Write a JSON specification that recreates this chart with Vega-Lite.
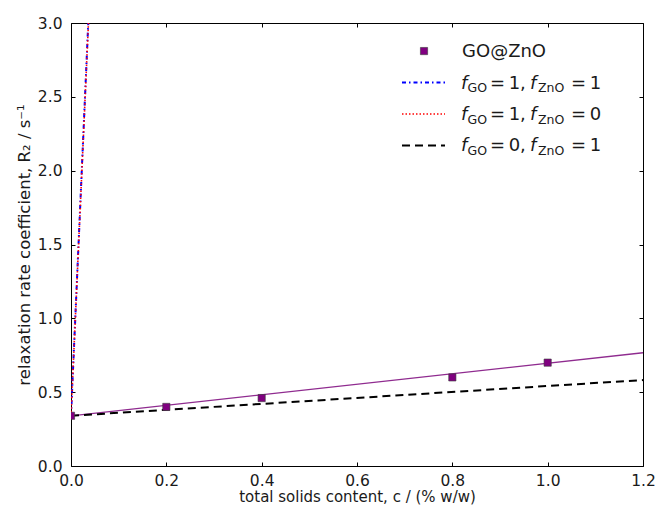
{
  "$schema": "https://vega.github.io/schema/vega-lite/v6.json",
  "width": 572,
  "height": 443,
  "autosize": {"type": "none"},
  "padding": {"left": 71, "top": 23, "right": 12, "bottom": 42},
  "background": "white",
  "datasets": {
    "measured": [
      {"c": 0.0, "R2": 0.34},
      {"c": 0.2, "R2": 0.40},
      {"c": 0.4, "R2": 0.46},
      {"c": 0.8, "R2": 0.60},
      {"c": 1.0, "R2": 0.70}
    ],
    "lines": [
      {"series": "fit", "c": 0.0, "R2": 0.34},
      {"series": "fit", "c": 1.2, "R2": 0.767},
      {"series": "GO1_ZnO1", "c": 0.0, "R2": 0.34},
      {"series": "GO1_ZnO1", "c": 0.0362, "R2": 3.0},
      {"series": "GO1_ZnO0", "c": 0.0, "R2": 0.34},
      {"series": "GO1_ZnO0", "c": 0.0366, "R2": 3.0},
      {"series": "GO0_ZnO1", "c": 0.0, "R2": 0.34},
      {"series": "GO0_ZnO1", "c": 1.2, "R2": 0.582}
    ],
    "one": [{"k": 1}]
  },
  "layer": [
    {
      "data": {"name": "lines"},
      "transform": [{"filter": "datum.series === 'fit'"}],
      "mark": {"type": "line", "color": "#8f2b8f", "strokeWidth": 1.3, "clip": true},
      "encoding": {
        "x": {"field": "c", "type": "quantitative", "scale": {"domain": [0, 1.2], "nice": false},
          "axis": {"title": "total solids content, c / (% w/w)", "values": [0, 0.2, 0.4, 0.6, 0.8, 1.0, 1.2], "format": ".1f", "labelPadding": 11, "titlePadding": 1, "titleFontSize": 15}},
        "y": {"field": "R2", "type": "quantitative", "scale": {"domain": [0, 3], "nice": false},
          "axis": {"title": "relaxation rate coefficient, R₂ / s⁻¹", "values": [0, 0.5, 1.0, 1.5, 2.0, 2.5, 3.0], "format": ".1f", "labelPadding": 13, "titlePadding": 5, "titleFontSize": 16.5}}
      }
    },
    {
      "data": {"name": "measured"},
      "mark": {"type": "point", "opacity": 0},
      "encoding": {
        "x": {"field": "c", "type": "quantitative", "axis": {"orient": "top", "labels": false, "title": null, "values": [0, 0.2, 0.4, 0.6, 0.8, 1.0, 1.2]}},
        "y": {"field": "R2", "type": "quantitative", "axis": {"orient": "right", "labels": false, "title": null, "values": [0, 0.5, 1.0, 1.5, 2.0, 2.5, 3.0]}}
      }
    },
    {
      "data": {"name": "lines"},
      "transform": [{"filter": "datum.series === 'GO0_ZnO1'"}],
      "mark": {"type": "line", "color": "#000000", "strokeWidth": 2, "strokeDash": [8, 5], "clip": true},
      "encoding": {
        "x": {"field": "c", "type": "quantitative", "axis": null},
        "y": {"field": "R2", "type": "quantitative", "axis": null}
      }
    },
    {
      "data": {"name": "lines"},
      "transform": [{"filter": "datum.series === 'GO1_ZnO1'"}],
      "mark": {"type": "line", "color": "#0000ff", "strokeWidth": 2, "strokeDash": [4, 3, 1.5, 3], "clip": true},
      "encoding": {
        "x": {"field": "c", "type": "quantitative", "axis": null},
        "y": {"field": "R2", "type": "quantitative", "axis": null}
      }
    },
    {
      "data": {"name": "lines"},
      "transform": [{"filter": "datum.series === 'GO1_ZnO0'"}],
      "mark": {"type": "line", "color": "#ff0000", "strokeWidth": 1.6, "strokeDash": [1.5, 2], "clip": true},
      "encoding": {
        "x": {"field": "c", "type": "quantitative", "axis": null},
        "y": {"field": "R2", "type": "quantitative", "axis": null}
      }
    },
    {
      "data": {"name": "measured"},
      "mark": {"type": "square", "size": 52, "filled": true, "color": "#800080", "stroke": "#3a3a3a", "strokeWidth": 0.6, "opacity": 1, "clip": true},
      "encoding": {
        "x": {"field": "c", "type": "quantitative", "axis": null},
        "y": {"field": "R2", "type": "quantitative", "axis": null}
      }
    },
    {
      "data": {"name": "one"},
      "mark": {"type": "square", "size": 52, "filled": true, "color": "#800080", "stroke": "#3a3a3a", "strokeWidth": 0.6, "opacity": 1},
      "encoding": {
        "x": {"datum": 0.7406, "type": "quantitative", "axis": null},
        "y": {"datum": 2.81, "type": "quantitative", "axis": null}
      }
    },
    {
      "data": {"name": "one"},
      "mark": {"type": "rule", "color": "#0000ff", "strokeWidth": 2, "strokeDash": [4, 3, 1.5, 3]},
      "encoding": {
        "x": {"datum": 0.6944, "type": "quantitative", "axis": null},
        "x2": {"datum": 0.7846},
        "y": {"datum": 2.597, "type": "quantitative", "axis": null}
      }
    },
    {
      "data": {"name": "one"},
      "mark": {"type": "rule", "color": "#ff0000", "strokeWidth": 1.6, "strokeDash": [1.5, 2]},
      "encoding": {
        "x": {"datum": 0.6944, "type": "quantitative", "axis": null},
        "x2": {"datum": 0.7846},
        "y": {"datum": 2.384, "type": "quantitative", "axis": null}
      }
    },
    {
      "data": {"name": "one"},
      "mark": {"type": "rule", "color": "#000000", "strokeWidth": 2, "strokeDash": [8, 5]},
      "encoding": {
        "x": {"datum": 0.6944, "type": "quantitative", "axis": null},
        "x2": {"datum": 0.7846},
        "y": {"datum": 2.171, "type": "quantitative", "axis": null}
      }
    },
    {
      "data": {"name": "one"},
      "mark": {"type": "text", "text": "GO@ZnO", "align": "left", "baseline": "alphabetic", "fontSize": 18, "color": "#1a1a1a"},
      "encoding": {"x": {"datum": 0.8203, "type": "quantitative", "axis": null}, "y": {"datum": 2.77, "type": "quantitative", "axis": null}}
    },

    {"data": {"name": "one"}, "mark": {"type": "text", "text": "f", "fontStyle": "italic", "align": "left", "baseline": "alphabetic", "fontSize": 18, "color": "#1a1a1a"},
      "encoding": {"x": {"datum": 0.8182, "type": "quantitative", "axis": null}, "y": {"datum": 2.556, "type": "quantitative", "axis": null}}},
    {"data": {"name": "one"}, "mark": {"type": "text", "text": "GO", "align": "left", "baseline": "alphabetic", "fontSize": 12.5, "dy": 3.5, "color": "#1a1a1a"},
      "encoding": {"x": {"datum": 0.8318, "type": "quantitative", "axis": null}, "y": {"datum": 2.556, "type": "quantitative", "axis": null}}},
    {"data": {"name": "one"}, "mark": {"type": "text", "text": "=\u20091,", "align": "left", "baseline": "alphabetic", "fontSize": 18, "color": "#1a1a1a"},
      "encoding": {"x": {"datum": 0.879, "type": "quantitative", "axis": null}, "y": {"datum": 2.556, "type": "quantitative", "axis": null}}},
    {"data": {"name": "one"}, "mark": {"type": "text", "text": "f", "fontStyle": "italic", "align": "left", "baseline": "alphabetic", "fontSize": 18, "color": "#1a1a1a"},
      "encoding": {"x": {"datum": 0.9629, "type": "quantitative", "axis": null}, "y": {"datum": 2.556, "type": "quantitative", "axis": null}}},
    {"data": {"name": "one"}, "mark": {"type": "text", "text": "ZnO", "align": "left", "baseline": "alphabetic", "fontSize": 12.5, "dy": 3.5, "color": "#1a1a1a"},
      "encoding": {"x": {"datum": 0.9797, "type": "quantitative", "axis": null}, "y": {"datum": 2.556, "type": "quantitative", "axis": null}}},
    {"data": {"name": "one"}, "mark": {"type": "text", "text": "=\u20091", "align": "left", "baseline": "alphabetic", "fontSize": 18, "color": "#1a1a1a"},
      "encoding": {"x": {"datum": 1.049, "type": "quantitative", "axis": null}, "y": {"datum": 2.556, "type": "quantitative", "axis": null}}},

    {"data": {"name": "one"}, "mark": {"type": "text", "text": "f", "fontStyle": "italic", "align": "left", "baseline": "alphabetic", "fontSize": 18, "color": "#1a1a1a"},
      "encoding": {"x": {"datum": 0.8182, "type": "quantitative", "axis": null}, "y": {"datum": 2.343, "type": "quantitative", "axis": null}}},
    {"data": {"name": "one"}, "mark": {"type": "text", "text": "GO", "align": "left", "baseline": "alphabetic", "fontSize": 12.5, "dy": 3.5, "color": "#1a1a1a"},
      "encoding": {"x": {"datum": 0.8318, "type": "quantitative", "axis": null}, "y": {"datum": 2.343, "type": "quantitative", "axis": null}}},
    {"data": {"name": "one"}, "mark": {"type": "text", "text": "=\u20091,", "align": "left", "baseline": "alphabetic", "fontSize": 18, "color": "#1a1a1a"},
      "encoding": {"x": {"datum": 0.879, "type": "quantitative", "axis": null}, "y": {"datum": 2.343, "type": "quantitative", "axis": null}}},
    {"data": {"name": "one"}, "mark": {"type": "text", "text": "f", "fontStyle": "italic", "align": "left", "baseline": "alphabetic", "fontSize": 18, "color": "#1a1a1a"},
      "encoding": {"x": {"datum": 0.9629, "type": "quantitative", "axis": null}, "y": {"datum": 2.343, "type": "quantitative", "axis": null}}},
    {"data": {"name": "one"}, "mark": {"type": "text", "text": "ZnO", "align": "left", "baseline": "alphabetic", "fontSize": 12.5, "dy": 3.5, "color": "#1a1a1a"},
      "encoding": {"x": {"datum": 0.9797, "type": "quantitative", "axis": null}, "y": {"datum": 2.343, "type": "quantitative", "axis": null}}},
    {"data": {"name": "one"}, "mark": {"type": "text", "text": "=\u20090", "align": "left", "baseline": "alphabetic", "fontSize": 18, "color": "#1a1a1a"},
      "encoding": {"x": {"datum": 1.049, "type": "quantitative", "axis": null}, "y": {"datum": 2.343, "type": "quantitative", "axis": null}}},

    {"data": {"name": "one"}, "mark": {"type": "text", "text": "f", "fontStyle": "italic", "align": "left", "baseline": "alphabetic", "fontSize": 18, "color": "#1a1a1a"},
      "encoding": {"x": {"datum": 0.8182, "type": "quantitative", "axis": null}, "y": {"datum": 2.13, "type": "quantitative", "axis": null}}},
    {"data": {"name": "one"}, "mark": {"type": "text", "text": "GO", "align": "left", "baseline": "alphabetic", "fontSize": 12.5, "dy": 3.5, "color": "#1a1a1a"},
      "encoding": {"x": {"datum": 0.8318, "type": "quantitative", "axis": null}, "y": {"datum": 2.13, "type": "quantitative", "axis": null}}},
    {"data": {"name": "one"}, "mark": {"type": "text", "text": "=\u20090,", "align": "left", "baseline": "alphabetic", "fontSize": 18, "color": "#1a1a1a"},
      "encoding": {"x": {"datum": 0.879, "type": "quantitative", "axis": null}, "y": {"datum": 2.13, "type": "quantitative", "axis": null}}},
    {"data": {"name": "one"}, "mark": {"type": "text", "text": "f", "fontStyle": "italic", "align": "left", "baseline": "alphabetic", "fontSize": 18, "color": "#1a1a1a"},
      "encoding": {"x": {"datum": 0.9629, "type": "quantitative", "axis": null}, "y": {"datum": 2.13, "type": "quantitative", "axis": null}}},
    {"data": {"name": "one"}, "mark": {"type": "text", "text": "ZnO", "align": "left", "baseline": "alphabetic", "fontSize": 12.5, "dy": 3.5, "color": "#1a1a1a"},
      "encoding": {"x": {"datum": 0.9797, "type": "quantitative", "axis": null}, "y": {"datum": 2.13, "type": "quantitative", "axis": null}}},
    {"data": {"name": "one"}, "mark": {"type": "text", "text": "=\u20091", "align": "left", "baseline": "alphabetic", "fontSize": 18, "color": "#1a1a1a"},
      "encoding": {"x": {"datum": 1.049, "type": "quantitative", "axis": null}, "y": {"datum": 2.13, "type": "quantitative", "axis": null}}}
  ],
  "resolve": {"axis": {"x": "independent", "y": "independent"}},
  "config": {
    "font": "DejaVu Sans",
    "view": {"stroke": null},
    "axis": {
      "grid": false,
      "domainColor": "#000000",
      "domainWidth": 1,
      "tickColor": "#000000",
      "tickSize": -4,
      "tickWidth": 1,
      "labelFontSize": 15.5,
      "labelColor": "#1a1a1a",
      "titleFontSize": 15.5,
      "titleFontWeight": "normal",
      "titleColor": "#1a1a1a",
      "labelFlush": false,
      "labelOverlap": false
    }
  }
}
